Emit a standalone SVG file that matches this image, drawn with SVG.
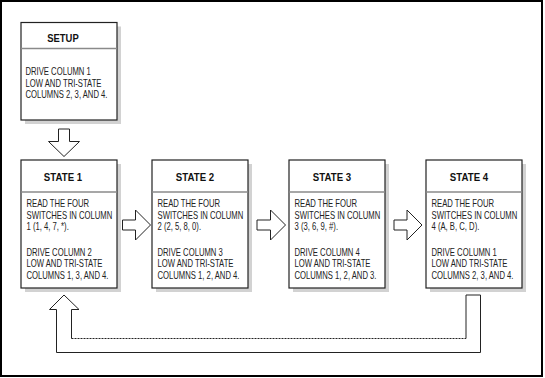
<svg xmlns="http://www.w3.org/2000/svg" width="545" height="378" viewBox="0 0 545 378">
<style>
.frame{fill:#fff;stroke:#000;stroke-width:2}
.shadow{fill:#d2d2d2}
.box{fill:#fff;stroke:#222;stroke-width:1.2}
.div{stroke:#8a8a8a;stroke-width:1.5}
.arrow{fill:#fff;stroke:#222;stroke-width:1}
.title{font-family:"Liberation Sans",Arial,sans-serif;font-weight:bold;font-size:11.5px;fill:#111;text-anchor:middle}
.body{font-family:"Liberation Sans",Arial,sans-serif;font-size:10px;fill:#222}
</style>
<rect class="frame" x="1" y="1" width="541" height="375"/>

<g id="setup">
<rect class="shadow" x="25" y="26.5" width="96" height="97.5"/>
<rect class="box" x="21" y="22.5" width="96" height="97.5"/>
<line class="div" x1="21" y1="48.5" x2="117" y2="48.5"/>
<text class="title" transform="translate(63,42) scale(0.82,1)">SETUP</text>
<text class="body" transform="translate(25.5,0) scale(0.77,1)"><tspan x="0" y="75.5">DRIVE COLUMN 1</tspan><tspan x="0" y="87">LOW AND TRI-STATE</tspan><tspan x="0" y="98.5">COLUMNS 2, 3, AND 4.</tspan></text>
</g>

<g id="state1">
<rect class="shadow" x="25" y="164" width="96" height="128"/>
<rect class="box" x="21" y="160" width="96" height="128"/>
<line class="div" x1="21" y1="192" x2="117" y2="192"/>
<text class="title" transform="translate(63,181) scale(0.84,1)">STATE 1</text>
<text class="body" transform="translate(26.5,0) scale(0.77,1)"><tspan x="0" y="207.5">READ THE FOUR</tspan><tspan x="0" y="219">SWITCHES IN COLUMN</tspan><tspan x="0" y="230.5">1 (1, 4, 7, *).</tspan><tspan x="0" y="256">DRIVE COLUMN 2</tspan><tspan x="0" y="267.5">LOW AND TRI-STATE</tspan><tspan x="0" y="279">COLUMNS 1, 3, AND 4.</tspan></text>
</g>

<g id="state2">
<rect class="shadow" x="156" y="164" width="96" height="128"/>
<rect class="box" x="152" y="160" width="96" height="128"/>
<line class="div" x1="152" y1="192" x2="248" y2="192"/>
<text class="title" transform="translate(195,181) scale(0.84,1)">STATE 2</text>
<text class="body" transform="translate(157.5,0) scale(0.77,1)"><tspan x="0" y="207.5">READ THE FOUR</tspan><tspan x="0" y="219">SWITCHES IN COLUMN</tspan><tspan x="0" y="230.5">2 (2, 5, 8, 0).</tspan><tspan x="0" y="256">DRIVE COLUMN 3</tspan><tspan x="0" y="267.5">LOW AND TRI-STATE</tspan><tspan x="0" y="279">COLUMNS 1, 2, AND 4.</tspan></text>
</g>

<g id="state3">
<rect class="shadow" x="293" y="164" width="96" height="128"/>
<rect class="box" x="289" y="160" width="96" height="128"/>
<line class="div" x1="289" y1="192" x2="385" y2="192"/>
<text class="title" transform="translate(332,181) scale(0.84,1)">STATE 3</text>
<text class="body" transform="translate(294.5,0) scale(0.77,1)"><tspan x="0" y="207.5">READ THE FOUR</tspan><tspan x="0" y="219">SWITCHES IN COLUMN</tspan><tspan x="0" y="230.5">3 (3, 6, 9, #).</tspan><tspan x="0" y="256">DRIVE COLUMN 4</tspan><tspan x="0" y="267.5">LOW AND TRI-STATE</tspan><tspan x="0" y="279">COLUMNS 1, 2, AND 3.</tspan></text>
</g>

<g id="state4">
<rect class="shadow" x="430" y="164" width="96" height="128"/>
<rect class="box" x="426" y="160" width="96" height="128"/>
<line class="div" x1="426" y1="192" x2="522" y2="192"/>
<text class="title" transform="translate(469,181) scale(0.84,1)">STATE 4</text>
<text class="body" transform="translate(431.5,0) scale(0.77,1)"><tspan x="0" y="207.5">READ THE FOUR</tspan><tspan x="0" y="219">SWITCHES IN COLUMN</tspan><tspan x="0" y="230.5">4 (A, B, C, D).</tspan><tspan x="0" y="256">DRIVE COLUMN 1</tspan><tspan x="0" y="267.5">LOW AND TRI-STATE</tspan><tspan x="0" y="279">COLUMNS 2, 3, AND 4.</tspan></text>
</g>

<g id="connectors">
<polygon class="arrow" points="58.5,129 69.5,129 69.5,141.5 79.5,141.5 64,156.5 48.5,141.5 58.5,141.5"/>
<polygon class="arrow" points="122.5,220 135.5,220 135.5,210 150.5,225 135.5,240 135.5,230 122.5,230"/>
<polygon class="arrow" points="257,220 270.5,220 270.5,210 285.5,225 270.5,240 270.5,230 257,230"/>
<polygon class="arrow" points="394,220 407,220 407,210 422,225 407,240 407,230 394,230"/>
<polygon fill="#fff" stroke="none" points="466,295 480.5,295 480.5,352.5 56.5,352.5 56.5,309.5 49.5,309.5 64,295 79,309.5 71.5,309.5 71.5,338.5 466,338.5"/>
<polyline fill="none" stroke="#222" stroke-width="1" points="466,338.5 466,295 480.5,295 480.5,352.5 56.5,352.5 56.5,309.5 49.5,309.5 64,295 79,309.5 71.5,309.5 71.5,338.5"/>
<line x1="71.5" y1="338.5" x2="466" y2="338.5" stroke="#222" stroke-width="1" stroke-dasharray="2,1"/>
</g>
</svg>
